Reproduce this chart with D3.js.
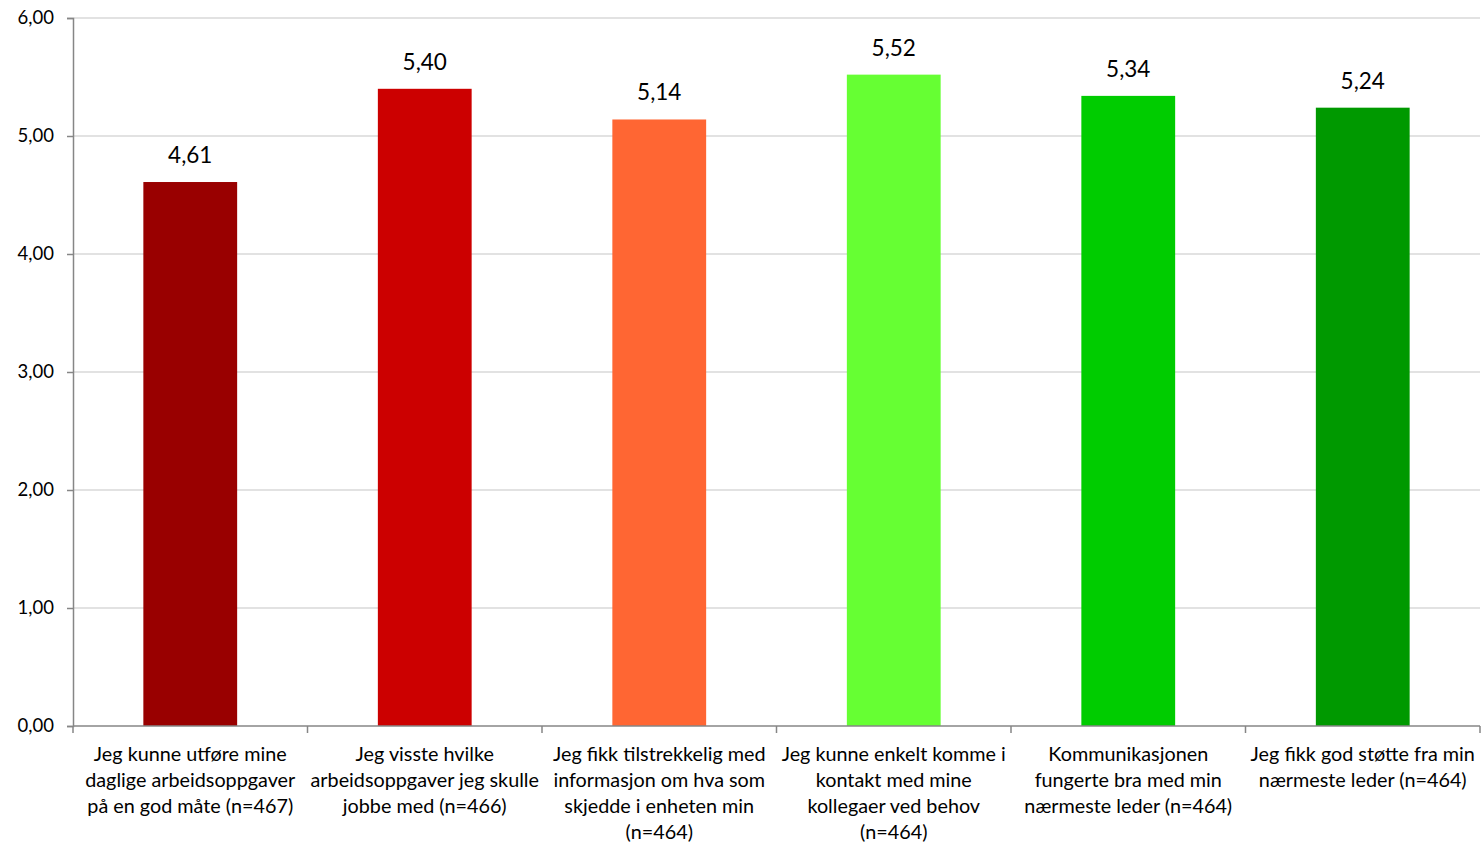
<!DOCTYPE html>
<html><head><meta charset="utf-8">
<script src="https://cdn.jsdelivr.net/npm/d3@7/dist/d3.min.js"></script>
<style>body{margin:0;background:#fff}svg{display:block}</style>
</head><body>
<svg id="c" width="1482" height="844"></svg>
<script>
const categories = [
  ["Jeg kunne utføre mine","daglige arbeidsoppgaver","på en god måte (n=467)"],
  ["Jeg visste hvilke","arbeidsoppgaver jeg skulle","jobbe med (n=466)"],
  ["Jeg fikk tilstrekkelig med","informasjon om hva som","skjedde i enheten min","(n=464)"],
  ["Jeg kunne enkelt komme i","kontakt med mine","kollegaer ved behov","(n=464)"],
  ["Kommunikasjonen","fungerte bra med min","nærmeste leder (n=464)"],
  ["Jeg fikk god støtte fra min","nærmeste leder (n=464)"]
];
const values = [4.61, 5.40, 5.14, 5.52, 5.34, 5.24];
const colors = ["#990000","#CC0000","#FF6633","#66FF33","#00CC00","#009900"];
const yTicks = [0,1,2,3,4,5,6];

const svg = d3.select("#c");
const font = "Lato, 'Open Sans', sans-serif";
const L = 73, R = 1480, T = 18, B = 726;
const x = d3.scaleBand().domain(d3.range(categories.length)).range([L, R]);
const y = d3.scaleLinear().domain([0, 6]).range([B, T]);

// gridlines
svg.append("g").selectAll("line").data(yTicks.filter(d=>d>0)).join("line")
  .attr("x1", L).attr("x2", R).attr("y1", d=>y(d)).attr("y2", d=>y(d))
  .attr("stroke", "#d9d9d9").attr("stroke-width", 1.3);

// y axis
const ya = svg.append("g").attr("transform", `translate(${L},0)`)
  .call(d3.axisLeft(y).tickValues(yTicks).tickSize(6).tickPadding(13)
    .tickFormat(d => d3.format(".2f")(d).replace(".", ",")));
ya.select(".domain").attr("stroke", "#868686").attr("stroke-width", 1.5);
ya.selectAll(".tick line").attr("stroke", "#868686").attr("stroke-width", 1.5);
ya.selectAll("text").attr("font-family", font).attr("font-size", 18.5).attr("fill", "#000");

// bars
const bw = x.bandwidth() * 0.4;
svg.append("g").selectAll("rect").data(values).join("rect")
  .attr("x", (d,i) => x(i) + (x.bandwidth()-bw)/2)
  .attr("width", bw)
  .attr("y", d => y(d))
  .attr("height", d => B - y(d))
  .attr("fill", (d,i) => colors[i]);

// value labels
svg.append("g").selectAll("text").data(values).join("text")
  .attr("x", (d,i) => x(i) + x.bandwidth()/2)
  .attr("y", d => y(d) - 19)
  .attr("text-anchor", "middle")
  .attr("font-family", font).attr("font-size", 22.5).attr("fill", "#000")
  .text(d => d3.format(".2f")(d).replace(".", ","));

// x axis
const xa = svg.append("g").attr("transform", `translate(0,${B})`);
xa.append("line").attr("x1", L).attr("x2", R).attr("stroke", "#868686").attr("stroke-width", 1.5);
const bounds = d3.range(categories.length + 1).map(i => i < categories.length ? x(i) : R);
xa.selectAll(".tk").data(bounds).join("line").attr("class","tk")
  .attr("x1", d=>d).attr("x2", d=>d).attr("y1", 0).attr("y2", 7)
  .attr("stroke", "#868686").attr("stroke-width", 1.5);

// category labels
const lab = svg.append("g").selectAll("text").data(categories).join("text")
  .attr("text-anchor", "middle")
  .attr("font-family", font).attr("font-size", 19.8).attr("fill", "#000");
lab.each(function(lines, i){
  d3.select(this).selectAll("tspan").data(lines).join("tspan")
    .attr("x", x(i) + x.bandwidth()/2)
    .attr("y", (l, j) => 761 + j*26)
    .text(l => l);
});
</script>
</body></html>
